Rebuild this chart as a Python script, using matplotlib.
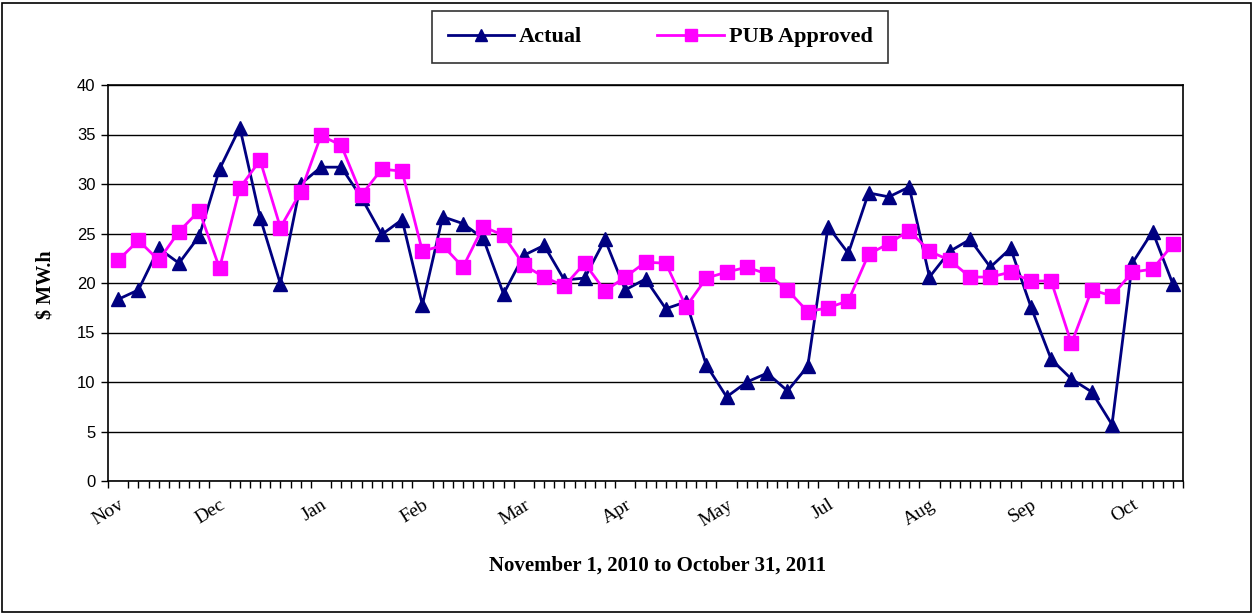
import matplotlib
matplotlib.use("Agg")
import matplotlib.pyplot as plt
from matplotlib.patches import Rectangle
from matplotlib.lines import Line2D

actual = [18.35, 19.3, 23.5, 22.0, 24.75, 31.5, 35.7, 26.6, 19.9, 30.0,
          31.7, 31.7, 28.6, 24.9, 26.4, 17.8, 26.7, 26.0, 24.5, 18.9,
          22.8, 23.8, 20.3, 20.5, 24.4, 19.3, 20.4, 17.4, 18.1, 11.7,
          8.5, 10.0, 10.9, 9.1, 11.6, 25.7, 23.0, 29.1, 28.7, 29.7,
          20.6, 23.2, 24.4, 21.6, 23.5, 17.6, 12.3, 10.3, 9.0, 5.7,
          22.0, 25.2, 19.9]
pub = [22.3, 24.3, 22.3, 25.2, 27.3, 21.5, 29.6, 32.4, 25.6, 29.2,
       34.9, 33.9, 28.9, 31.5, 31.3, 23.2, 23.8, 21.6, 25.7, 24.8,
       21.8, 20.6, 19.7, 22.0, 19.2, 20.6, 22.1, 22.0, 17.6, 20.5,
       21.1, 21.6, 20.9, 19.3, 17.1, 17.5, 18.2, 22.9, 24.0, 25.3,
       23.2, 22.3, 20.6, 20.6, 21.1, 20.2, 20.2, 13.9, 19.3, 18.7,
       21.1, 21.4, 23.9]
month_labels = ["Nov", "Dec", "Jan", "Feb", "Mar", "Apr", "May", "Jul", "Aug", "Sep", "Oct"]
label_step = 5
yticks = [0, 5, 10, 15, 20, 25, 30, 35, 40]

W, H = 1257, 613
fig = plt.figure(figsize=(W / 100, H / 100), dpi=100)
ax = fig.add_axes([108 / W, 1 - 481 / H, (1183 - 108) / W, (481 - 85) / H])

x = list(range(len(actual)))
ax.plot(x, actual, color="#000080", lw=2.0, marker="^", ms=10, mec="#000080", mfc="#000080", zorder=3)
ax.plot(x, pub, color="#FF00FF", lw=2.0, marker="s", ms=9.5, mec="#FF00FF", mfc="#FF00FF", zorder=3)

ax.set_xlim(-0.5, len(actual) - 0.5)
ax.set_ylim(0, 40)
ax.set_yticks(yticks)
ax.set_yticklabels([str(v) for v in yticks], fontfamily="Liberation Sans", fontsize=12)
ax.yaxis.grid(True, color="black", lw=1.0)
ax.set_axisbelow(True)

ax.set_xticks([i * label_step for i in range(len(month_labels))])
ax.set_xticklabels(month_labels, rotation=32, ha="right", rotation_mode="anchor",
                   fontfamily="Liberation Serif", fontsize=14)
ax.tick_params(axis="x", length=0, pad=11)
ax.set_xticks([i * 0.5 - 0.5 for i in range(2 * len(actual) + 1)], minor=True)
ax.tick_params(axis="x", which="minor", length=5, width=1, direction="out", color="black")
ax.tick_params(axis="y", length=5, width=1, direction="out", pad=4)

for s in ax.spines.values():
    s.set_color("black")
    s.set_linewidth(1.2)

fig.text(46 / W, 1 - 285 / H, "$ MW.h", rotation=90, ha="center", va="center",
         fontfamily="Liberation Serif", fontweight="bold", fontsize=14.5)
fig.text(658 / W, 1 - 566 / H, "November 1, 2010 to October 31, 2011", ha="center", va="center",
         fontfamily="Liberation Serif", fontweight="bold", fontsize=15)

handles = [Line2D([0], [0], color="#000080", lw=2.0, marker="^", ms=8),
           Line2D([0], [0], color="#FF00FF", lw=2.0, marker="s", ms=8)]
leg = fig.legend(handles, ["Actual", "PUB Approved"], loc="center",
                 bbox_to_anchor=(660 / W, 1 - 37 / H), ncol=2, frameon=True,
                 fancybox=False, edgecolor="black", handlelength=3.0, columnspacing=3.4,
                 borderpad=0.7, handletextpad=0.2, borderaxespad=0,
                 prop={"family": "Liberation Serif", "weight": "bold", "size": 16})
leg.get_frame().set_linewidth(1.2)

fig.patches.append(Rectangle((2 / W, 1 / H), (W - 8) / W, (H - 4) / H, transform=fig.transFigure,
                             fill=False, edgecolor="black", lw=1.2))

fig.savefig("out.png", dpi=100)
